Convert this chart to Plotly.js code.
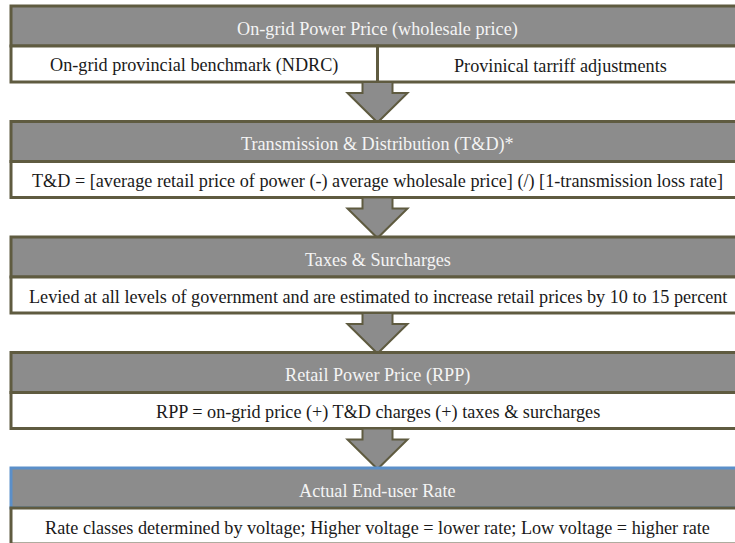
<!DOCTYPE html>
<html>
<head>
<meta charset="utf-8">
<script src="https://cdn.plot.ly/plotly-3.0.1.min.js"></script>
<style>html,body{margin:0;padding:0;background:#fff;}#chart{width:735px;height:543px;}</style>
</head>
<body>
<div id="chart"></div>
<script>
// ---- content ----
const stageTitles = [
  "On-grid Power Price (wholesale price)",
  "Transmission & Distribution (T&D)*",
  "Taxes & Surcharges",
  "Retail Power Price (RPP)",
  "Actual End-user Rate"
];
const stageDetails = [
  ["On-grid provincial benchmark (NDRC)", "Provinical tarriff adjustments"],
  ["T&D = [average retail price of power (-) average wholesale price] (/) [1-transmission loss rate]"],
  ["Levied at all levels of government and are estimated to increase retail prices by 10 to 15 percent"],
  ["RPP = on-grid price (+) T&D charges (+) taxes & surcharges"],
  ["Rate classes determined by voltage; Higher voltage = lower rate; Low voltage = higher rate"]
];

// ---- geometry / style ----
const W = 735, H = 543;
const X0 = 11, X1 = 744, XC = 377.5;
const TOP0 = 6, PITCH = 115.5, HEAD_H = 40, BODY_H = 36;
const GRAY = "#8c8c8c", OLIVE = "#5f5b40", BLUE = "#5b8fc9";
const FONT = "Liberation Serif";
const FS = 18.2;

const shapes = [];
const annotations = [];

stageTitles.forEach((title, i) => {
  const top = TOP0 + i * PITCH;
  const hb = top + HEAD_H;
  const bb = hb + BODY_H;
  const last = i === stageTitles.length - 1;
  shapes.push({type: "rect", xref: "x", yref: "y", x0: X0, x1: X1, y0: top, y1: hb,
    fillcolor: GRAY, line: {color: last ? BLUE : OLIVE, width: 3}, layer: "above"});
  const cells = stageDetails[i];
  cells.forEach((txt, j) => {
    const cx0 = (cells.length > 1 && j === 1) ? XC : X0;
    const cx1 = (cells.length > 1 && j === 0) ? XC : X1;
    shapes.push({type: "rect", xref: "x", yref: "y", x0: cx0, x1: cx1, y0: hb, y1: bb,
      fillcolor: "#ffffff", line: {color: OLIVE, width: 3}, layer: "above"});
    annotations.push({xref: "x", yref: "y", x: (cx0 + cx1) / 2, y: (hb + bb) / 2 + 1.5, text: txt,
      showarrow: false, xanchor: "center", yanchor: "middle",
      font: {family: FONT, size: FS, color: "#1a1a1a"}});
  });
  annotations.push({xref: "x", yref: "y", x: (X0 + X1) / 2, y: (top + hb) / 2 + 3, text: title,
    showarrow: false, xanchor: "center", yanchor: "middle",
    font: {family: FONT, size: FS, color: "#f4f4f4"}});
  if (!last) {
    const nextTop = TOP0 + (i + 1) * PITCH;
    const s = 15, h = 30, hs = bb + 11;
    const p = `M ${XC - s} ${bb} L ${XC + s} ${bb} L ${XC + s} ${hs} L ${XC + h} ${hs} L ${XC} ${nextTop + 1} L ${XC - h} ${hs} L ${XC - s} ${hs} Z`;
    shapes.push({type: "path", xref: "x", yref: "y", path: p, fillcolor: GRAY,
      line: {color: OLIVE, width: 2}, layer: "above"});
  }
});

const layout = {
  width: W, height: H,
  margin: {l: 0, r: 0, t: 0, b: 0},
  paper_bgcolor: "#ffffff", plot_bgcolor: "#ffffff",
  font: {family: FONT},
  xaxis: {range: [0, W], visible: false, fixedrange: true},
  yaxis: {range: [H, 0], visible: false, fixedrange: true},
  showlegend: false,
  shapes: shapes,
  annotations: annotations
};

Plotly.newPlot("chart", [{x: [], y: [], type: "scatter", mode: "markers", hoverinfo: "skip"}], layout, {displayModeBar: false, staticPlot: true});
</script>
</body>
</html>
